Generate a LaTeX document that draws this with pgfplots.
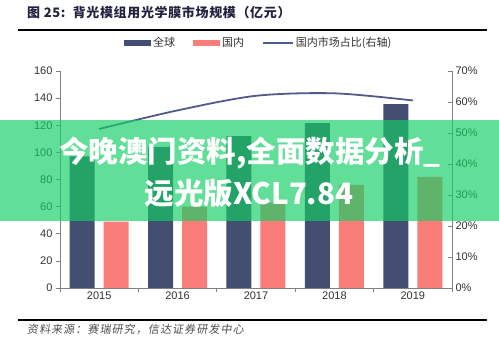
\documentclass[border=0pt]{standalone}
\usepackage{fontspec}
\setmainfont{Liberation Sans}
\newfontfamily\cjk{Noto Sans CJK SC}
\newfontfamily\cjkt{Noto Sans CJK SC}[LetterSpace=5]
\newfontfamily\cjksl{Noto Sans CJK SC}[FakeSlant=0.15, LetterSpace=10]
\usepackage{pgfplots}
\pgfplotsset{compat=1.18}
\definecolor{navybar}{RGB}{68,78,112}
\definecolor{redbar}{RGB}{250,125,122}
\definecolor{linecol}{RGB}{80,90,140}
\definecolor{axcol}{RGB}{128,128,128}
\definecolor{labcol}{RGB}{50,50,50}
\definecolor{titlecol}{RGB}{35,35,65}
\definecolor{bannergreen}{RGB}{20,206,100}
\begin{document}
\begin{tikzpicture}[x=1pt,y=1pt]
\path (0,0) rectangle (499,343);
\begin{axis}[
  at={(60pt,55pt)}, anchor=south west,
  scale only axis, width=392pt, height=217pt,
  xmin=-0.5, xmax=4.5, ymin=0, ymax=160,
  axis y line*=left, axis x line*=bottom,
  axis line style={axcol, line width=0.6pt},
  xtick={-0.5,0.5,1.5,2.5,3.5,4.5}, xticklabels={,,,,,},
  extra x ticks={0,1,2,3,4},
  extra x tick labels={2015,2016,2017,2018,2019},
  extra x tick style={major tick length=0pt},
  ytick={0,20,...,160},
  tick align=outside, major tick length=4pt,
  tick style={axcol, line width=0.6pt},
  ticklabel style={font=\fontsize{11}{13}\selectfont, text=labcol},
  /pgf/number format/assume math mode=true,
  legend style={at={(axis description cs:0.507,1.129)}, anchor=center,
    draw=none, fill=none, legend columns=3,
    font=\cjk\fontsize{11}{13}\selectfont, text=labcol,
    /tikz/every even column/.append style={column sep=16pt},
    inner sep=0pt},
  legend cell align=left,
]
\addplot[ybar, bar width=25pt, bar shift=-17pt, fill=navybar, draw=none,
  legend image code/.code={\fill[navybar] (0pt,-3pt) rectangle (27pt,3pt);}]
  coordinates {(0,97) (1,104) (2,112) (3,121.5) (4,135.5)};
\addlegendentry{全球}
\addplot[ybar, bar width=25pt, bar shift=17pt, fill=redbar, draw=none,
  legend image code/.code={\fill[redbar] (0pt,-3pt) rectangle (27pt,3pt);}]
  coordinates {(0,49) (1,60) (2,63) (3,76) (4,82)};
\addlegendentry{国内}
\addlegendimage{legend image code/.code={\draw[linecol, line width=1.8pt] (0pt,0pt) -- (30pt,0pt);}}
\addlegendentry{国内市场占比(右轴)}
\end{axis}
\begin{axis}[
  at={(60pt,55pt)}, anchor=south west,
  scale only axis, width=392pt, height=217pt,
  xmin=-0.5, xmax=4.5, ymin=0, ymax=70,
  axis y line*=right, axis x line=none,
  axis line style={axcol, line width=0.6pt},
  ytick={0,10,...,70},
  yticklabel={\pgfmathprintnumber{\tick}\%},
  tick align=inside, major tick length=4pt,
  tick style={axcol, line width=0.6pt},
  ticklabel style={font=\fontsize{11}{13}\selectfont, text=labcol},
  /pgf/number format/assume math mode=true,
]
\addplot[smooth, linecol, line width=1.8pt, mark=none]
  coordinates {(0,51.3) (1,57.3) (2,62) (3,62.8) (4,60.5)};
\end{axis}
% title and rules
\node[anchor=west, font=\cjkt\bfseries\fontsize{13}{15}\selectfont, text=titlecol, inner sep=0pt]
  at (27,330) {图 25:\ \ 背光模组用光学膜市场规模（亿元）};
\draw[line width=1.5pt] (18,313) -- (487,313);
\draw[line width=1.5pt] (18,23) -- (487,23);
\node[anchor=west, font=\cjksl\fontsize{11}{13}\selectfont, text=black!70, inner sep=0pt]
  at (27,13.5) {资料来源：赛瑞研究，信达证券研发中心};
% overlay banner
\fill[bannergreen, opacity=0.67] (0,122) rectangle (499,223);
\node[text=white, font=\cjk\bfseries\fontsize{29.5}{32}\selectfont, inner sep=0pt]
  at (250,190) {今晚澳门资料,全面数据分析\_};
\node[text=white, font=\cjk\bfseries\fontsize{29.5}{32}\selectfont, inner sep=0pt]
  at (249,150) {远光版XCL7.84};
\end{tikzpicture}
\end{document}
